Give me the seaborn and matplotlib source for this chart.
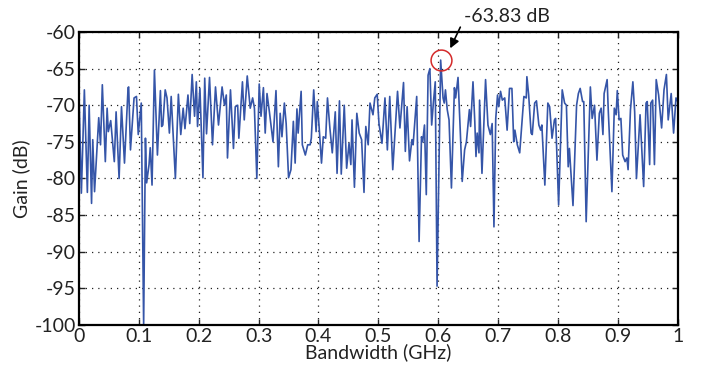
import numpy as np
import pandas as pd
import matplotlib
matplotlib.use("Agg")
import matplotlib.pyplot as plt
from matplotlib.ticker import FuncFormatter
import seaborn as sns

freq_ghz = [
    0.000, 0.004, 0.009, 0.014, 0.017, 0.021, 0.023, 0.026, 0.033, 0.036, 0.039, 0.044, 0.047, 0.049,
    0.053, 0.059, 0.062, 0.067, 0.071, 0.076, 0.082, 0.083, 0.086, 0.092, 0.096, 0.099, 0.104, 0.108,
    0.111, 0.113, 0.117, 0.119, 0.122, 0.126, 0.131, 0.136, 0.138, 0.140, 0.144, 0.147, 0.151, 0.154,
    0.161, 0.166, 0.170, 0.174, 0.177, 0.182, 0.185, 0.189, 0.193, 0.196, 0.198, 0.202, 0.207, 0.210,
    0.213, 0.218, 0.223, 0.228, 0.233, 0.239, 0.243, 0.246, 0.248,
    0.253, 0.258, 0.261, 0.265, 0.267, 0.273, 0.276, 0.281, 0.286, 0.290, 0.293, 0.297, 0.301, 0.304,
    0.308, 0.311, 0.314, 0.318, 0.324, 0.329, 0.333, 0.336, 0.339, 0.343, 0.346, 0.350, 0.354, 0.358,
    0.361, 0.364, 0.366, 0.371, 0.373, 0.378, 0.382, 0.386, 0.388, 0.392, 0.396, 0.398, 0.401, 0.405,
    0.408, 0.412, 0.415, 0.419, 0.423, 0.428, 0.431, 0.435, 0.438, 0.443, 0.447, 0.451, 0.454, 0.456,
    0.460, 0.464, 0.468, 0.472, 0.476, 0.479, 0.483, 0.486, 0.491, 0.494, 0.498,
    0.501, 0.506, 0.511, 0.515, 0.519, 0.524, 0.532, 0.536, 0.542, 0.545, 0.548, 0.552, 0.556, 0.558,
    0.564, 0.568, 0.572, 0.574, 0.577, 0.580, 0.583, 0.586, 0.589, 0.592, 0.595, 0.598, 0.604, 0.608,
    0.610, 0.612, 0.615, 0.618, 0.622, 0.627, 0.629, 0.633, 0.637, 0.640, 0.644, 0.647, 0.652, 0.654,
    0.658, 0.661, 0.663, 0.665, 0.668, 0.669, 0.673, 0.676, 0.679, 0.683, 0.687, 0.690, 0.693, 0.696,
    0.699, 0.701, 0.704, 0.707, 0.711, 0.715, 0.719, 0.723, 0.726, 0.728, 0.732, 0.736, 0.743, 0.747,
    0.748, 0.751, 0.755, 0.757, 0.761, 0.764, 0.768, 0.771, 0.773, 0.778, 0.783, 0.786, 0.790, 0.794,
    0.796, 0.801, 0.807, 0.811, 0.814, 0.817, 0.819, 0.825, 0.831, 0.834, 0.837, 0.841, 0.843, 0.847,
    0.854, 0.857, 0.861, 0.865, 0.869, 0.872, 0.875, 0.877, 0.882, 0.884, 0.890, 0.894, 0.897, 0.899,
    0.902, 0.905, 0.908, 0.912, 0.915, 0.917, 0.921, 0.925, 0.928, 0.931, 0.937, 0.943, 0.947, 0.949,
    0.953, 0.955, 0.958, 0.961, 0.964, 0.968, 0.973, 0.977, 0.981, 0.984, 0.989, 0.993, 0.997, 1.000,
]

gain_db = [
    -68.4, -82.0, -67.9, -81.9, -70.0, -83.4, -74.7, -81.8, -71.7, -75.4, -67.2, -77.7, -70.4, -73.6,
    -72.1, -77.7, -70.9, -80.0, -70.2, -77.9, -67.6, -67.5, -76.1, -69.0, -68.8, -74.0, -69.7, -100.0,
    -74.5, -80.6, -78.1, -75.8, -80.9, -65.2, -76.8, -68.0, -72.9, -72.7, -67.9, -69.0, -73.8, -68.8,
    -80.0, -68.5, -74.0, -70.4, -73.2, -68.6, -72.5, -65.8, -71.5, -66.8, -72.9, -67.7, -79.9, -66.3,
    -73.9, -66.2, -75.4, -67.5, -72.7, -67.5, -70.0, -68.6, -77.2,
    -67.9, -75.9, -70.2, -70.0, -74.5, -66.8, -72.0, -66.0, -70.4, -69.0, -70.4, -80.0, -67.1, -71.5,
    -67.6, -73.8, -68.4, -70.9, -75.0, -68.0, -78.4, -71.1, -74.3, -69.7, -72.5, -79.9, -78.8, -72.2,
    -77.9, -70.5, -73.8, -68.1, -75.4, -76.8, -75.4, -75.4, -74.5, -67.9, -73.6, -69.5, -72.9, -77.9,
    -74.3, -74.5, -69.0, -73.1, -76.5, -70.9, -79.3, -69.4, -79.4, -70.0, -78.6, -75.2, -78.1, -72.0,
    -81.2, -71.1, -73.8, -74.7, -81.9, -72.9, -75.4, -69.7, -71.3, -69.0, -68.5,
    -72.5, -75.2, -69.0, -76.1, -68.8, -78.8, -68.1, -73.1, -66.9, -76.3, -70.2, -77.6, -74.7, -75.4,
    -68.8, -88.6, -74.3, -75.0, -72.7, -82.2, -65.9, -65.0, -72.7, -69.5, -66.8, -94.7, -63.83, -69.0,
    -69.7, -67.9, -70.6, -72.0, -81.3, -67.6, -69.0, -66.2, -74.0, -80.4, -76.1, -75.0, -70.6, -72.9,
    -66.8, -72.2, -77.0, -73.8, -76.5, -69.3, -79.3, -72.7, -66.5, -72.7, -74.0, -72.5, -86.6, -71.8,
    -68.6, -70.2, -68.1, -69.3, -69.0, -73.4, -67.7, -67.7, -75.0, -73.4, -75.4, -76.5, -68.8, -69.0,
    -66.1, -68.6, -73.8, -74.0, -69.7, -69.4, -72.7, -73.4, -72.7, -80.9, -69.7, -70.2, -74.5, -72.0,
    -71.8, -83.6, -67.9, -69.7, -70.0, -78.4, -75.9, -83.7, -70.0, -68.4, -67.7, -69.5, -69.5, -85.9,
    -67.5, -71.8, -70.0, -77.5, -71.1, -70.4, -74.0, -68.4, -66.5, -70.9, -81.8, -70.4, -71.3, -68.0,
    -72.0, -71.8, -76.8, -77.7, -77.2, -78.8, -70.6, -66.8, -70.9, -80.0, -71.3, -81.1, -69.7, -69.5,
    -78.1, -69.7, -69.3, -78.1, -66.5, -68.6, -73.1, -67.9, -65.8, -72.0, -68.4, -73.8, -69.0, -69.5,
]

x_ticks = [0, 0.1, 0.2, 0.3, 0.4, 0.5, 0.6, 0.7, 0.8, 0.9, 1.0]
y_ticks = [-100, -95, -90, -85, -80, -75, -70, -65, -60]
peak_label = "-63.83 dB"

df = pd.DataFrame({"Bandwidth (GHz)": freq_ghz, "Gain (dB)": gain_db})

sns.set_style("ticks")
plt.rcParams["font.family"] = ["Lato", "DejaVu Sans"]
plt.rcParams["axes.unicode_minus"] = False

FS = 14

fig = plt.figure(figsize=(7.02, 3.68), dpi=100)
ax = fig.add_axes([0.1125, 0.117, 0.853, 0.796])

sns.lineplot(data=df, x="Bandwidth (GHz)", y="Gain (dB)", ax=ax, estimator=None,
             sort=False, color="#3555a8", linewidth=1.2)

ax.set_xlim(0, 1)
ax.set_ylim(-100, -60)
ax.set_xticks(x_ticks)
ax.set_yticks(y_ticks)
ax.xaxis.set_major_formatter(FuncFormatter(lambda v, p: f"{v:g}"))
ax.yaxis.set_major_formatter(FuncFormatter(lambda v, p: f"{v:g}"))
ax.grid(True, color="#222222", linestyle=(0, (1, 4)), linewidth=0.9)
ax.tick_params(direction="in", length=4, width=1.0, labelsize=FS, colors="#222222",
               top=True, right=True, labeltop=False, labelright=False, pad=2)
for s in ax.spines.values():
    s.set_linewidth(1.6)
    s.set_color("black")
ax.set_xlabel("Bandwidth (GHz)", fontsize=FS, labelpad=-1, color="#222222")
ax.set_ylabel("Gain (dB)", fontsize=FS, labelpad=3, color="#222222")

# peak marker & annotation
i_pk = int(np.argmax(gain_db))
px, py = freq_ghz[i_pk], gain_db[i_pk]
ax.plot([px], [py], marker="o", markersize=15, markerfacecolor="none",
        markeredgecolor="#d42a2a", markeredgewidth=1.1, clip_on=False)
ax.annotate(peak_label, xy=(px + 0.016, py + 1.6), xytext=(px + 0.11, py + 5.9),
            textcoords="data", ha="center", va="center", fontsize=FS, color="#222222",
            annotation_clip=False,
            arrowprops=dict(arrowstyle="-|>", color="black", lw=1.2, mutation_scale=14,
                            shrinkA=0, shrinkB=0, relpos=(0.0, 0.3)))

fig.savefig("out.png", dpi=100)
